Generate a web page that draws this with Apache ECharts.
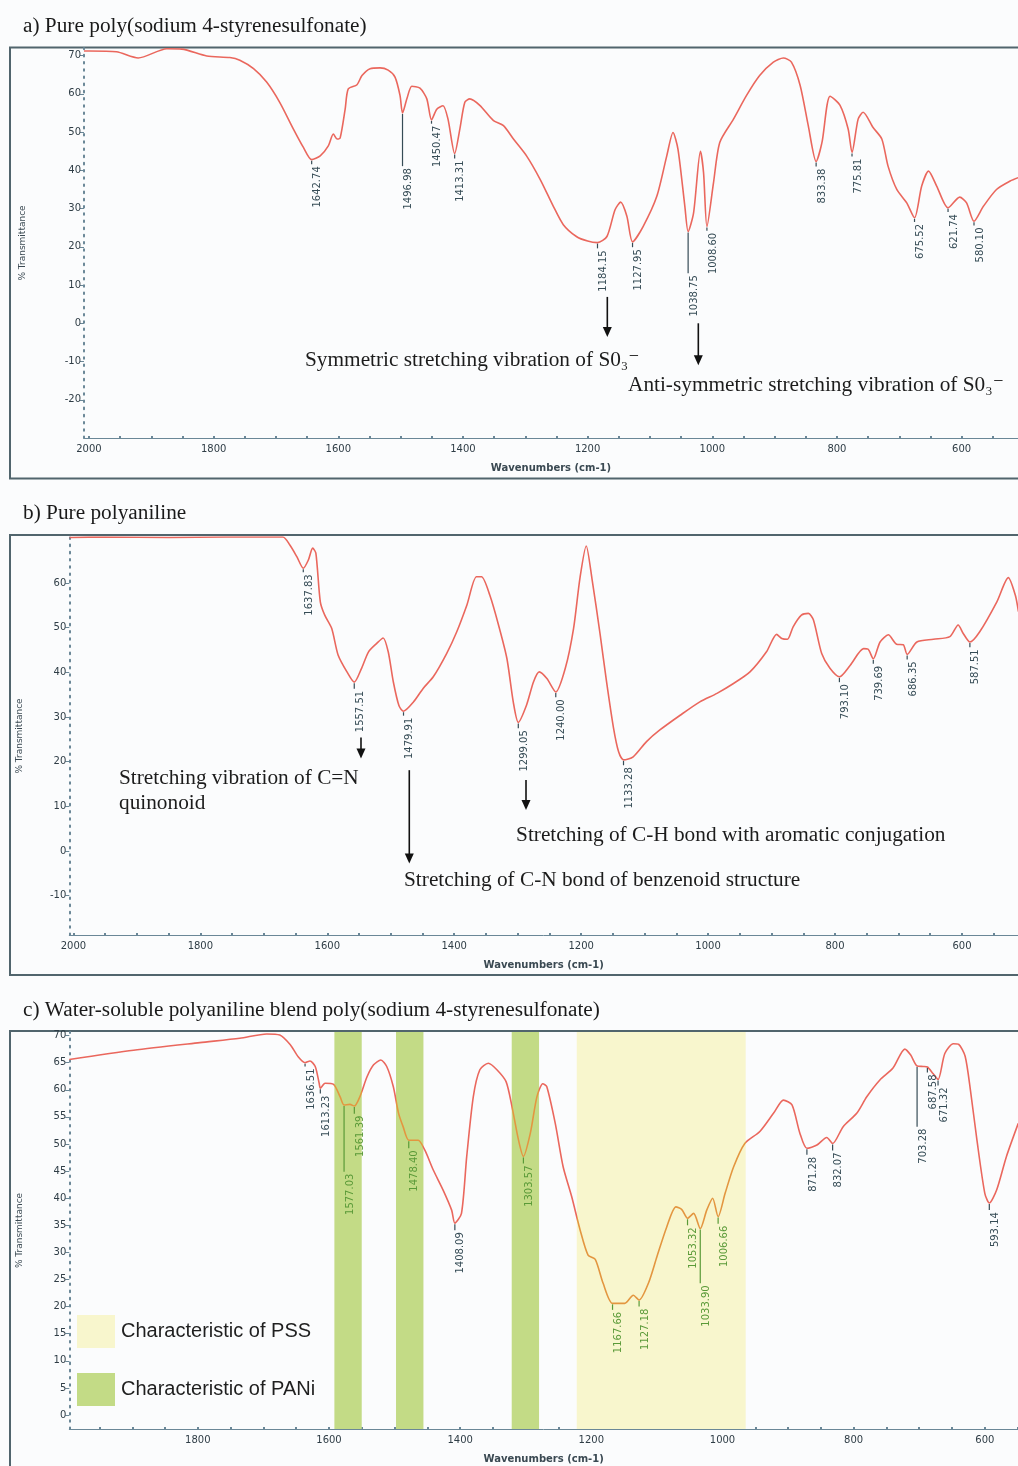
<!DOCTYPE html>
<html>
<head>
<meta charset="utf-8">
<title>FTIR spectra: PSS, PANi and PANi/PSS blend</title>
<script src="https://cdn.jsdelivr.net/npm/echarts@6/dist/echarts.min.js"></script>
<style>
  html, body { margin: 0; padding: 0; background: #fbfcfd; }
  #chart { width: 1018px; height: 1466px; }
</style>
</head>
<body>
<div id="chart"></div>
<script>
// ---------- spectra: [wavenumber (cm-1), % transmittance] ----------
const specA = [
  [2008,71.2],[2000,71.2],[1956,71.0],[1921,69.4],[1875,71.8],[1851,71.7],[1811,69.9],[1774,69.5],
  [1758,68.8],[1736,66.6],[1715,63.1],[1694,57.8],[1672,50.8],[1656,46.0],[1642.74,42.8],[1629,43.8],
  [1616,46.4],[1608,49.5],[1602,48.2],[1597,48.5],[1589,56.0],[1584,61.3],[1570,62.4],[1562,64.8],
  [1549,66.6],[1533,66.8],[1520,66.2],[1509,64.4],[1501,59.6],[1496.98,55.0],[1490,58.7],[1482,62.0],
  [1469,61.5],[1458,58.7],[1450.47,53.2],[1442,56.0],[1432,56.9],[1424,53.4],[1413.31,44.4],[1405,50.8],
  [1397,57.8],[1389,58.7],[1373,57.0],[1351,53.0],[1335,51.7],[1319,48.2],[1298,43.8],[1276,37.6],
  [1255,30.6],[1239,25.8],[1218,22.7],[1200,21.5],[1184.15,21.1],[1169,22.7],[1156,29.7],[1147,31.7],
  [1137,28.0],[1127.95,21.3],[1111,25.3],[1089,33.2],[1073,43.8],[1063,49.9],[1055,45.5],[1044,30.6],
  [1038.75,24.0],[1030,28.9],[1019,45.0],[1014,39.4],[1008.6,25.3],[998,36.8],[988,47.3],[966,53.4],
  [945,59.6],[924,64.8],[902,68.3],[886,69.4],[873,68.3],[859,62.2],[846,51.7],[833.38,42.3],
  [824,47.3],[811,59.4],[795,57.0],[782,50.8],[775.81,44.7],[766,53.4],[758,55.2],[742,51.2],
  [728,48.2],[718,41.1],[704,35.0],[688,31.5],[675.52,27.6],[664,35.9],[653,39.8],[640,35.9],
  [621.74,30.2],[603,33.0],[592,31.5],[580.1,26.7],[565,30.6],[544,35.0],[522,37.2],[509,38.1]
];
const specB = [
  [2006,70.2],[1950,70.3],[1850,70.2],[1760,70.3],[1670,70.3],[1659,68.5],[1648,65.9],[1637.83,63.3],
  [1630,65.1],[1623,67.8],[1618,66.7],[1611,55.8],[1604,52.8],[1593,49.8],[1583,43.9],[1569,40.1],
  [1557.51,37.8],[1546,40.9],[1535,44.6],[1522,46.5],[1512,47.7],[1504,44.6],[1496,37.9],[1487,32.5],
  [1479.91,31.3],[1464,33.4],[1449,36.4],[1433,39.0],[1412,44.2],[1396,49.1],[1380,55.1],[1365,61.4],
  [1357,61.4],[1344,57.3],[1330,50.5],[1317,43.1],[1307,33.4],[1299.05,28.8],[1286,32.7],[1275,37.9],
  [1266,40.1],[1254,38.6],[1240,35.6],[1225,40.9],[1212,49.8],[1202,61.0],[1192,68.3],[1183,61.0],
  [1170,48.4],[1160,37.9],[1149,27.5],[1141,22.2],[1133.28,20.4],[1118,21.1],[1097,24.5],[1076,27.1],
  [1044,30.4],[1013,33.4],[986,35.3],[960,37.5],[934,40.1],[908,44.6],[892,48.5],[884,47.6],
  [875,47.4],[866,50.2],[853,52.8],[842,53.2],[834,51.7],[821,44.2],[808,40.9],[793.1,39.0],
  [776,41.6],[755,45.3],[748,45.2],[739.69,43.0],[729,46.8],[716,48.4],[703,46.3],[692.5,46.2],
  [686.35,44.0],[671,46.8],[645,47.4],[619,48.0],[606,50.6],[598,48.7],[587.51,46.8],[572,49.1],
  [545,55.8],[527,61.2],[516,57.3],[511,53.6]
];
const specC = [
  [1996,65.6],[1898,67.3],[1797,68.7],[1736,69.5],[1695,70.3],[1675,70.1],[1659,68.3],[1647,66.1],
  [1636.51,65.0],[1629,65.3],[1621,64.3],[1615,61.2],[1613.23,60.3],[1606,61.2],[1593,61.0],[1583,58.7],
  [1577.03,57.2],[1568,57.3],[1561.39,57.0],[1553,58.7],[1542,62.4],[1532,64.6],[1521,65.5],[1512,64.3],
  [1502,60.6],[1494,55.7],[1487,53.2],[1478.4,50.7],[1464,50.7],[1454,48.9],[1441,45.2],[1426,41.5],
  [1413,37.8],[1408.09,35.4],[1398,37.2],[1390,47.7],[1380,58.7],[1370,63.7],[1357,64.9],[1344,63.7],
  [1330,61.5],[1321,56.9],[1311,50.7],[1303.57,47.7],[1293,52.0],[1283,58.7],[1274,61.1],[1268,60.6],
  [1255,53.8],[1243,45.8],[1230,40.3],[1217,34.1],[1205,29.5],[1194,28.7],[1182,24.3],[1167.66,20.6],
  [1149,20.6],[1136,22.1],[1127.18,21.2],[1113,24.3],[1100,29.2],[1085,34.7],[1071,38.4],[1062,37.9],
  [1053.32,36.3],[1044,37.2],[1033.9,34.4],[1024,37.8],[1015,40.0],[1006.66,36.6],[996,40.9],[983,45.8],
  [966,50.1],[943,52.3],[922,55.7],[907,58.1],[894,57.2],[882,52.0],[871.28,49.2],[856,49.8],
  [841,51.2],[832.07,50.1],[816,53.2],[795,55.7],[780,58.7],[760,61.8],[740,64.0],[722,67.5],
  [713,66.4],[703.28,64.4],[694,64.3],[687.58,64.2],[679,63.0],[671.32,61.9],[661,66.7],[648,68.5],
  [640,68.4],[630,66.2],[622,60.0],[612,50.7],[600,40.9],[593.14,39.1],[582,41.5],[567,47.7],[549,53.8]
];

// ---------- peak picks: [wavenumber, transmittance at peak, end of leader line] ----------
const peaksA = [
  [1642.74,42.8,41.6],[1496.98,55.0,41.1],[1450.47,53.2,52.2],[1413.31,44.4,43.1],[1184.15,21.1,19.6],
  [1127.95,21.3,19.9],[1038.75,24.0,13.1],[1008.6,25.3,24.2],[833.38,42.3,41.0],[775.81,44.7,43.6],
  [675.52,27.6,26.5],[621.74,30.2,29.1],[580.1,26.7,25.6]
];
const peaksB = [
  [1637.83,63.3,62.4],[1557.51,37.8,36.3],[1479.91,31.3,30.3],[1299.05,28.8,27.5],[1240.0,35.6,34.4],
  [1133.28,20.4,19.2],[793.1,39.0,37.8],[739.69,43.0,41.9],[686.35,44.0,42.9],[587.51,46.8,45.6]
];
const peaksC = [
  [1636.51,65.0,64.3],[1613.23,60.3,59.3],[1577.03,57.2,44.9],[1561.39,57.0,55.6],[1478.4,50.7,49.2],
  [1408.09,35.4,34.1],[1303.57,47.7,46.4],[1167.66,20.6,19.4],[1127.18,21.2,20.0],[1053.32,36.3,35.0],
  [1033.9,34.4,24.3],[1006.66,36.6,35.3],[871.28,49.2,48.0],[832.07,50.1,48.8],[703.28,64.4,53.2],
  [687.58,64.2,63.2],[671.32,61.9,60.8],[593.14,39.1,37.8]
];

// ---------- highlighted regions of the blend spectrum: [from, to] cm-1 ----------
const bandsPANi = [[1591.8,1550.1],[1497.8,1456.0],[1321.4,1279.7]];
const bandsPSS = [[1222.2,964.6]];

// ---------- assignment arrows: [wavenumber, from, to] and notes: [wavenumber, transmittance] ----------
const arrowsA = [[1168.4,6.9,-3.6],[1022.4,0.0,-11.0]];
const notesA = [[1653.4,-9.7],[1135.2,-16.3]];
const noteTextA = ['Symmetric stretching vibration of S0\u2083\u207B', 'Anti-symmetric stretching vibration of S0\u2083\u207B'];

const arrowsB = [[1546.9,25.4,20.7],[1470.8,18.1,-2.8],[1286.9,15.9,9.2]];
const notesB = [[1928.2,16.3],[1928.2,10.7],[1302.6,3.4],[1479.1,-6.5]];
const noteTextB = ['Stretching vibration of C=N', 'quinonoid', 'Stretching of C-H bond with aromatic conjugation', 'Stretching of C-N bond of benzenoid structure'];

// ---------- axis ticks ----------
const xLabelsAB = [2000,1800,1600,1400,1200,1000,800,600];
const xLabelsC = [1800,1600,1400,1200,1000,800,600];
const yLabelsA = [-20,-10,0,10,20,30,40,50,60,70];
const yLabelsB = [-10,0,10,20,30,40,50,60];
const yLabelsC = [0,5,10,15,20,25,30,35,40,45,50,55,60,65,70];

const panelTitles = [
  'a) Pure poly(sodium 4-styrenesulfonate)',
  'b) Pure polyaniline',
  'c) Water-soluble polyaniline blend poly(sodium 4-styrenesulfonate)'
];

// ---------- styling ----------
const AXIS = '#6a8797';
const LABEL = '#2f3d46';
const CURVE = '#ea675d';
const BAND_CURVE = '#e39640';
const PEAK = '#364c56';
const PEAK_BAND = '#5a9a38';
const SERIF = '"Liberation Serif", "DejaVu Serif", serif';
const SANS = '"DejaVu Sans", sans-serif';

function minorTicks(lo, hi, step) {
  const out = [];
  for (let v = Math.ceil(lo / step) * step; v <= hi; v += step) out.push(v);
  return out;
}

function xAxisCfg(gridIndex, min, max, labels) {
  return {
    type: 'value', gridIndex, min, max, inverse: true,
    name: 'Wavenumbers (cm-1)', nameLocation: 'middle', nameGap: 25,
    nameTextStyle: { fontFamily: SANS, fontSize: 10, fontWeight: 'bold', color: '#3a4952' },
    axisLine: { show: true, onZero: false, lineStyle: { color: AXIS, width: 1 } },
    axisTick: { show: true, inside: true, length: 2, customValues: minorTicks(min, max, 50),
                lineStyle: { color: AXIS, width: 2 } },
    axisLabel: { customValues: labels, margin: 6, fontFamily: SANS, fontSize: 10, color: LABEL,
                 formatter: v => String(v) },
    splitLine: { show: false }
  };
}

function yAxisCfg(gridIndex, min, max, labels, nameGap) {
  return {
    type: 'value', gridIndex, min, max,
    name: '% Transmittance', nameLocation: 'middle', nameGap,
    nameTextStyle: { fontFamily: SANS, fontSize: 9, color: '#3a4952' },
    axisLine: { show: true, onZero: false, lineStyle: { color: AXIS, width: 2, type: [1.6, 5.6] } },
    axisTick: { show: true, length: 4, customValues: labels, lineStyle: { color: AXIS, width: 1 } },
    axisLabel: { customValues: labels, margin: 3, fontFamily: SANS, fontSize: 10, color: LABEL,
                 formatter: v => String(v) },
    splitLine: { show: false }
  };
}

function inBand(cm) {
  return bandsPANi.concat(bandsPSS).some(b => cm <= Math.max(b[0], b[1]) && cm >= Math.min(b[0], b[1]));
}

function peakRenderer(useBandColor) {
  return function (params, api) {
    const cm = api.value(0);
    const top = api.coord([cm, api.value(1)]);
    const end = api.coord([cm, api.value(2)]);
    const color = useBandColor && inBand(cm) ? PEAK_BAND : PEAK;
    return {
      type: 'group',
      children: [
        { type: 'line', shape: { x1: top[0], y1: top[1] + 1, x2: end[0], y2: end[1] },
          style: { stroke: color, lineWidth: 1.2 } },
        { type: 'text', x: end[0] + 1, y: end[1] + 2, rotation: Math.PI / 2,
          style: { text: cm.toFixed(2), fill: color, font: '10px ' + SANS,
                   align: 'right', verticalAlign: 'top' } }
      ]
    };
  };
}

function arrowRenderer(params, api) {
  const p0 = api.coord([api.value(0), api.value(1)]);
  const p1 = api.coord([api.value(0), api.value(2)]);
  const x = p0[0];
  return {
    type: 'group',
    children: [
      { type: 'line', shape: { x1: x, y1: p0[1], x2: x, y2: p1[1] - 8 },
        style: { stroke: '#111', lineWidth: 1.6 } },
      { type: 'polygon', shape: { points: [[x - 4.5, p1[1] - 10], [x + 4.5, p1[1] - 10], [x, p1[1]]] },
        style: { fill: '#111' } }
    ]
  };
}

function noteRenderer(texts) {
  return function (params, api) {
    const p = api.coord([api.value(0), api.value(1)]);
    return {
      type: 'text', x: p[0], y: p[1],
      style: { text: texts[params.dataIndex], fill: '#1c1c1c', font: '21.3px ' + SERIF,
               align: 'left', verticalAlign: 'middle' }
    };
  };
}

function bandRenderer(params, api) {
  const a = api.coord([api.value(0), 0]);
  const b = api.coord([api.value(1), 0]);
  const cs = params.coordSys;
  return {
    type: 'rect',
    shape: { x: Math.min(a[0], b[0]), y: cs.y, width: Math.abs(b[0] - a[0]), height: cs.height },
    style: { fill: api.visual('color') }
  };
}

const chart = echarts.init(document.getElementById('chart'), null, { renderer: 'canvas' });

const option = {
  backgroundColor: '#fbfcfd',
  animation: false,
  title: panelTitles.map((t, i) => ({
    text: t, left: 18, top: [11, 498, 995][i],
    textStyle: { fontFamily: SERIF, fontSize: 21.3, fontWeight: 'normal', color: '#1a1a1a' }
  })),
  legend: {
    left: 72, top: 1310, orient: 'vertical', itemWidth: 38, itemHeight: 33, itemGap: 25,
    selectedMode: false, icon: 'rect',
    itemStyle: { borderWidth: 0 },
    textStyle: { fontFamily: '"Liberation Sans", Arial, sans-serif', fontSize: 20, color: '#1f1f1f',
                 padding: [0, 0, 0, 1] },
    data: ['Characteristic of PSS', 'Characteristic of PANi']
  },
  grid: [
    { left: 84, top: 48, width: 934, height: 390, outerBoundsMode: 'none' },
    { left: 69.3, top: 537, width: 948.7, height: 398, outerBoundsMode: 'none' },
    { left: 69.3, top: 1032, width: 948.7, height: 397, outerBoundsMode: 'none' }
  ],
  xAxis: [
    xAxisCfg(0, 509.5, 2008, xLabelsAB),
    xAxisCfg(1, 511.7, 2006.5, xLabelsAB),
    xAxisCfg(2, 549.4, 1996, xLabelsC)
  ],
  yAxis: [
    yAxisCfg(0, -30, 72, yLabelsA, 57),
    yAxisCfg(1, -18.8, 70.3, yLabelsB, 45),
    yAxisCfg(2, -2.58, 70.66, yLabelsC, 45)
  ],
  visualMap: {
    type: 'piecewise', show: false, seriesIndex: 10, dimension: 0,
    pieces: bandsPANi.concat(bandsPSS).map(b => ({ gte: Math.min(b[0], b[1]), lte: Math.max(b[0], b[1]), color: BAND_CURVE })),
    outOfRange: { color: CURVE }
  },
  graphic: {
    elements: [47.5, 535, 1031].map((y, i) => ({
      type: 'rect', silent: true, z: 0,
      shape: { x: 10, y, width: 1030, height: [431, 440, 450][i] },
      style: { fill: 'none', stroke: '#51656d', lineWidth: 2 }
    }))
  },
  series: [
    // a) PSS
    { type: 'line', xAxisIndex: 0, yAxisIndex: 0, data: specA, smooth: 0.25, showSymbol: false,
      lineStyle: { color: CURVE, width: 1.6 }, itemStyle: { color: CURVE }, z: 3 },
    { type: 'custom', xAxisIndex: 0, yAxisIndex: 0, data: peaksA, renderItem: peakRenderer(false), z: 4 },
    { type: 'custom', xAxisIndex: 0, yAxisIndex: 0, data: arrowsA, renderItem: arrowRenderer, z: 4 },
    { type: 'custom', xAxisIndex: 0, yAxisIndex: 0, data: notesA, renderItem: noteRenderer(noteTextA), z: 4 },
    // b) PANi
    { type: 'line', xAxisIndex: 1, yAxisIndex: 1, data: specB, smooth: 0.25, showSymbol: false,
      lineStyle: { color: CURVE, width: 1.6 }, itemStyle: { color: CURVE }, z: 3 },
    { type: 'custom', xAxisIndex: 1, yAxisIndex: 1, data: peaksB, renderItem: peakRenderer(false), z: 4 },
    { type: 'custom', xAxisIndex: 1, yAxisIndex: 1, data: arrowsB, renderItem: arrowRenderer, z: 4 },
    { type: 'custom', xAxisIndex: 1, yAxisIndex: 1, data: notesB, renderItem: noteRenderer(noteTextB), z: 4 },
    // c) PANi/PSS blend
    { name: 'Characteristic of PSS', type: 'custom', xAxisIndex: 2, yAxisIndex: 2, data: bandsPSS,
      renderItem: bandRenderer, itemStyle: { color: '#f8f6cd' }, z: 1 },
    { name: 'Characteristic of PANi', type: 'custom', xAxisIndex: 2, yAxisIndex: 2, data: bandsPANi,
      renderItem: bandRenderer, itemStyle: { color: '#c3db86' }, z: 1 },
    { type: 'line', xAxisIndex: 2, yAxisIndex: 2, data: specC, smooth: 0.25, showSymbol: false,
      lineStyle: { width: 1.6 }, z: 3 },
    { type: 'custom', xAxisIndex: 2, yAxisIndex: 2, data: peaksC, renderItem: peakRenderer(true), z: 4 }
  ]
};

chart.setOption(option);
</script>
</body>
</html>
